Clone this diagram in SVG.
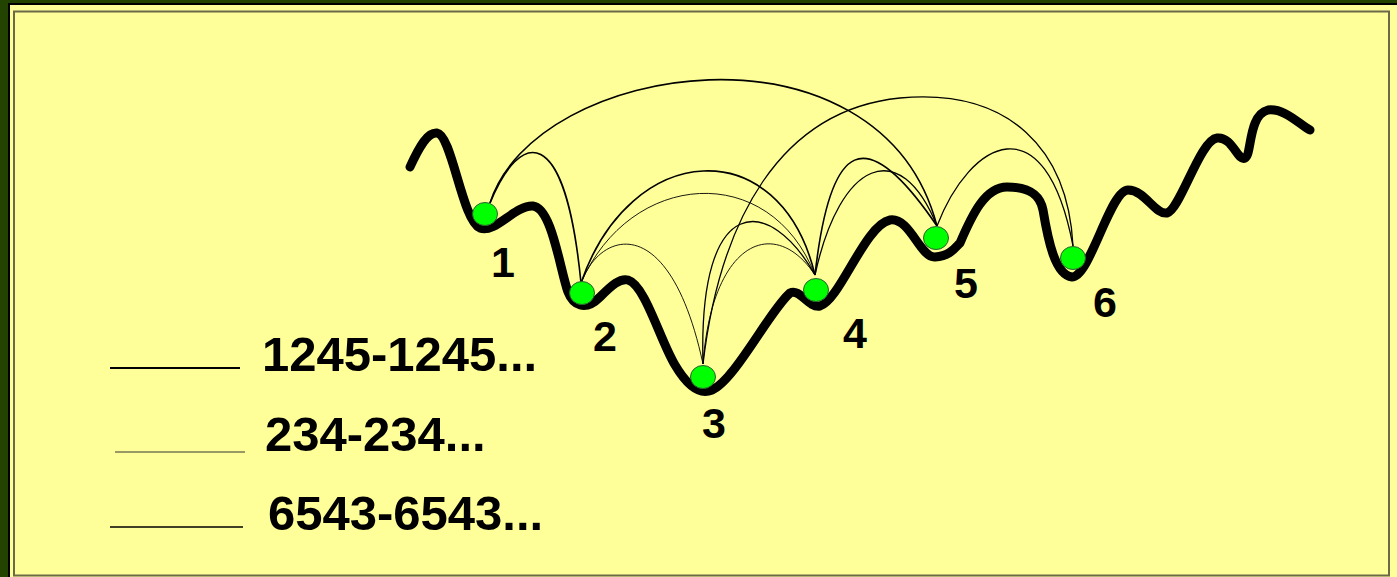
<svg xmlns="http://www.w3.org/2000/svg" width="1397" height="577" viewBox="0 0 1397 577">
<style>
.ball{fill:#00FF00;stroke:#2f5f2f;stroke-width:1}
.lbl{font-family:"Liberation Sans",Arial,sans-serif;font-weight:bold;font-size:43px;fill:#000;text-anchor:middle}
.leg{font-family:"Liberation Sans",Arial,sans-serif;font-weight:bold;font-size:49px;fill:#000}
.c{fill:none;stroke:#000}
.a{stroke-width:1.6}
.b{stroke-width:0.9}
.d{stroke-width:1.3}
</style>
<rect width="1397" height="577" fill="#224400"/>
<rect x="8" y="3" width="1389" height="574" fill="#000"/>
<rect x="10" y="5" width="1387" height="572" fill="#FFFF99"/>
<rect x="14" y="11.5" width="1375" height="564" fill="none" stroke="#6a6a48" stroke-width="2"/>

<g id="landscape">
<path fill="none" stroke="#000" stroke-width="9" stroke-linecap="round" stroke-linejoin="round" d="M410,167 C420,145 428,132 437,133 C452,135 462,220 480,228 C495,234 515,205 533,206 C552,208 560,270 568,292 C573,305 585,312 600,297 C612,285 620,278 628,280 C645,285 660,340 675,365 C688,387 700,395 712,390 C735,380 770,310 790,293 C800,288 808,308 820,306 C840,300 865,225 890,220 C910,217 920,258 935,257 C950,256 955,248 960,243 C972,215 985,187 1007,187 C1030,187 1040,195 1043,210 C1048,240 1055,275 1072,277 C1090,277 1110,190 1128,190 C1145,190 1155,215 1167,213 C1180,210 1200,140 1217,138 C1232,136 1238,162 1245,158 C1252,155 1248,115 1268,110 C1285,108 1300,125 1310,130"/>
</g>

<g id="connectors">
<path class="c a" d="M490,203 C535,60 880,10 937,226"/>
<path class="c a" d="M490,203 C520,130 565,120 581,283"/>
<path class="c a" d="M581,283 C630,140 780,130 815,275"/>
<path class="c a" d="M815,275 C830,140 865,120 937,226"/>
<path class="c b" d="M581,283 C630,170 770,160 815,275"/>
<path class="c b" d="M581,283 C600,230 670,210 703,364"/>
<path class="c b" d="M703,364 C712,240 775,215 815,275"/>
<path class="c d" d="M1073,246 C1045,100 970,140 937,226"/>
<path class="c d" d="M937,226 C900,135 840,160 815,275"/>
<path class="c d" d="M815,275 C770,195 698,190 703,364"/>
<path class="c d" d="M703,364 C720,220 780,110 900,98 C1010,88 1068,150 1073,246"/>
</g>

<g id="node1"><ellipse class="ball" cx="485" cy="214" rx="12.5" ry="11.5"/><text class="lbl" x="503" y="277">1</text></g>
<g id="node2"><ellipse class="ball" cx="582" cy="293" rx="12.5" ry="11.5"/><text class="lbl" x="605" y="351">2</text></g>
<g id="node3"><ellipse class="ball" cx="703" cy="377" rx="12.5" ry="11.5"/><text class="lbl" x="714" y="438">3</text></g>
<g id="node4"><ellipse class="ball" cx="816" cy="290" rx="12.5" ry="11.5"/><text class="lbl" x="855" y="348">4</text></g>
<g id="node5"><ellipse class="ball" cx="936" cy="238" rx="12.5" ry="11.5"/><text class="lbl" x="966" y="298">5</text></g>
<g id="node6"><ellipse class="ball" cx="1073" cy="258" rx="12.5" ry="11.5"/><text class="lbl" x="1105" y="317">6</text></g>

<g id="legend">
<line x1="110" y1="368" x2="240" y2="368" stroke="#000" stroke-width="2"/>
<line x1="115" y1="452" x2="245" y2="452" stroke="#333" stroke-width="1"/>
<line x1="110" y1="527" x2="243" y2="527" stroke="#000" stroke-width="1.5"/>
<text class="leg" x="262" y="371">1245-1245...</text>
<text class="leg" x="265" y="451">234-234...</text>
<text class="leg" x="268" y="530">6543-6543...</text>
</g>
</svg>
